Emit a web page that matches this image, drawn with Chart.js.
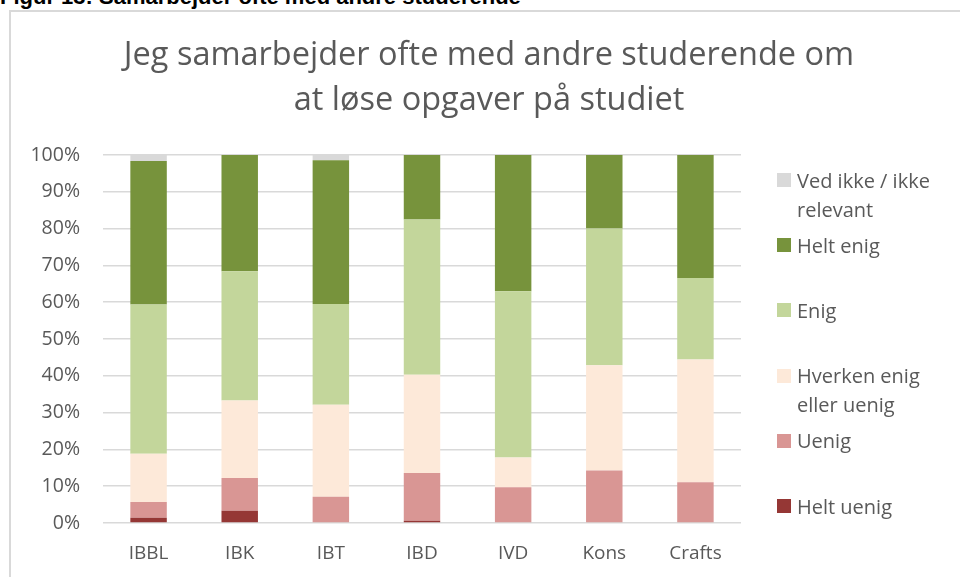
<!DOCTYPE html>
<html><head><meta charset="utf-8">
<script src="https://cdn.jsdelivr.net/npm/chart.js@4"></script>
<style>
html,body{margin:0;padding:0;background:#fff;overflow:hidden;width:960px;height:577px;position:relative;font-family:'Open Sans',sans-serif}
#frame{position:absolute;left:9px;top:10px;width:1000px;height:700px;border:2px solid #D9D9D9;box-sizing:border-box}
#cap{position:absolute;left:0;top:-14px;font:bold 22px 'Liberation Sans',Arial,sans-serif;line-height:22px;color:#000;white-space:nowrap}
#title{position:absolute;left:0;width:978px;top:30px;text-align:center;color:#595959;font-size:32.5px;line-height:45px}
#wrap{position:absolute;left:0;top:0;width:960px;height:577px}
.lb{position:absolute;left:777px;width:14px;height:14px}
.lt{position:absolute;left:797px;width:155px;font-size:20px;line-height:29px;color:#595959}
</style></head><body>
<div id="frame"></div>
<div id="cap">Figur 13: Samarbejder ofte med andre studerende</div>
<div id="wrap"><canvas id="c" width="960" height="577"></canvas></div>
<div id="title">Jeg samarbejder ofte med andre studerende om<br>at løse opgaver på studiet</div>
<div id="legend"></div>
<script>
const categories=['IBBL','IBK','IBT','IBD','IVD','Kons','Crafts'];
const seriesNames=['Helt uenig','Uenig','Hverken enig eller uenig','Enig','Helt enig','Ved ikke / ikke relevant'];
const heltUenig=[1.4,3.3,0,0.6,0,0,0];
const uenig=[4.3,8.9,7.1,13.0,9.7,14.3,11.1];
const hverken=[13.1,21.1,25.0,26.7,8.1,28.6,33.3];
const enig=[40.6,35.1,27.4,42.2,45.2,37.1,22.2];
const heltEnig=[39.0,31.6,39.1,17.5,37.0,20.0,33.4];
const vedIkke=[1.6,0,1.4,0,0,0,0];
const yTicks=[0,10,20,30,40,50,60,70,80,90,100];
const colors=['#953735','#D99694','#FDE9D9','#C3D69B','#77933C','#D9D9D9'];
const values=[heltUenig,uenig,hverken,enig,heltEnig,vedIkke];

const datasets=values.map((v,i)=>({label:seriesNames[i],data:v,backgroundColor:colors[i],borderWidth:0,barPercentage:0.4,categoryPercentage:1}));

new Chart(document.getElementById('c'),{
  type:'bar',
  data:{labels:categories,datasets},
  options:{
    responsive:false,animation:false,
    layout:{padding:{top:155,right:219,left:0,bottom:0}},
    plugins:{legend:{display:false},title:{display:false},tooltip:{enabled:false}},
    scales:{
      x:{stacked:true,grid:{display:false,drawTicks:false},border:{display:false},
         ticks:{color:'#595959',font:{family:'Open Sans',size:19},padding:19},
         afterFit:s=>{s.height=54;}},
      y:{stacked:true,min:0,max:100,
         afterBuildTicks:s=>{s.ticks=yTicks.map(v=>({value:v}));},
         grid:{color:'#D9D9D9',lineWidth:1.5,drawTicks:false},border:{display:false},
         ticks:{color:'#595959',font:{family:'Open Sans',size:19.5},padding:23,callback:v=>v+'%'},
         afterFit:s=>{s.width=103;}}
    }
  }
});

const leg=document.getElementById('legend');
for(let k=0;k<seriesNames.length;k++){
  const i=seriesNames.length-1-k;
  const cy=180+k*65.2;
  const b=document.createElement('div');b.className='lb';b.style.top=(cy-7)+'px';b.style.background=colors[i];
  const t=document.createElement('div');t.className='lt';t.style.top=(cy-14.5)+'px';t.textContent=seriesNames[i];
  leg.appendChild(b);leg.appendChild(t);
}
</script>
</body></html>
